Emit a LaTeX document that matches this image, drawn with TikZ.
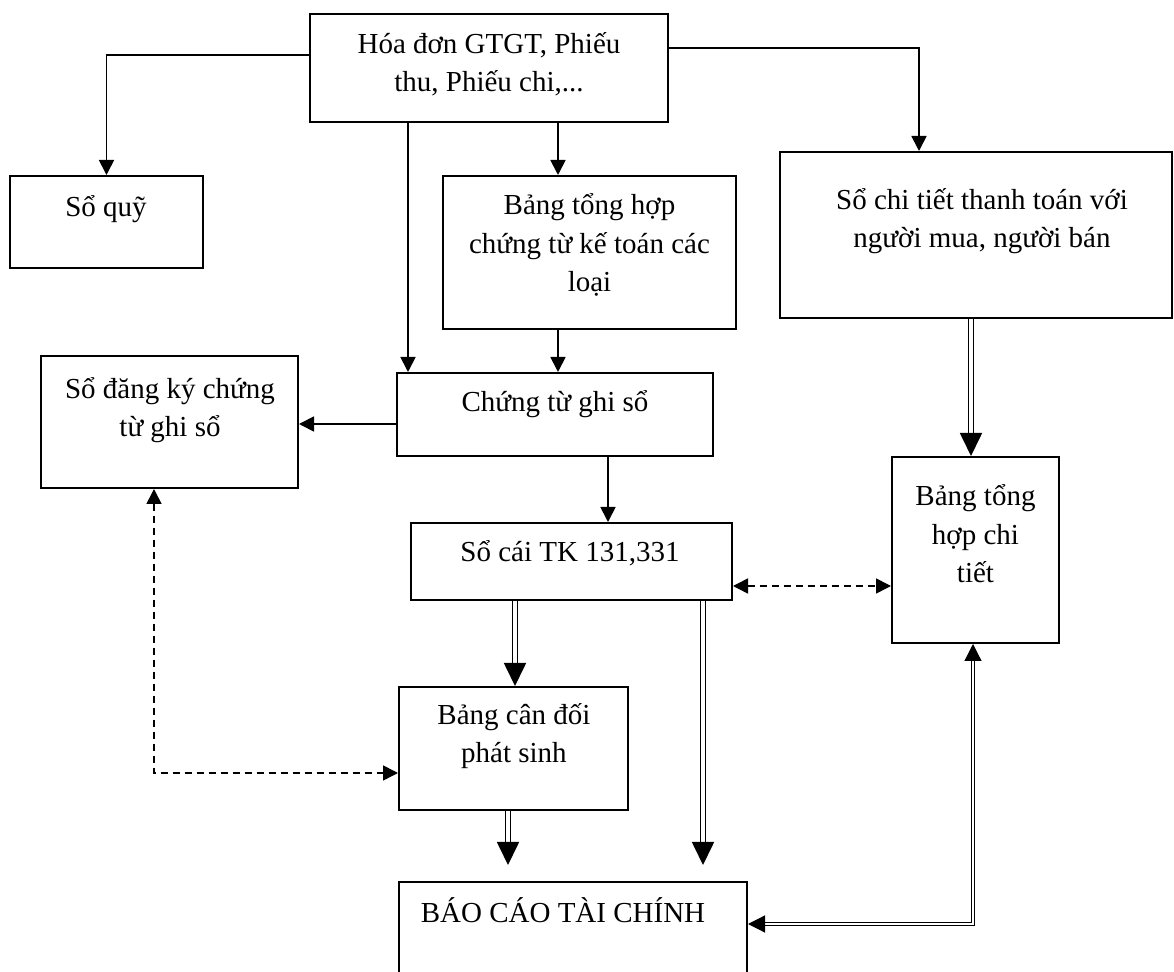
\documentclass[tikz,border=0pt]{standalone}
\usepackage{fontspec}
\setmainfont{Liberation Serif}
\usetikzlibrary{arrows.meta,fit}

\tikzset{
  box/.style={draw, line width=1pt, inner sep=0pt},
  lbl/.style={anchor=base, align=center, inner sep=0pt,
              font=\fontsize{14.5}{19.25}\selectfont},
  arr/.style={line width=0.9pt, -{Triangle[width=7.5pt,length=7.5pt]}},
  dbl/.style={double, line width=0.85pt, double distance=1.7pt,
              -{Triangle[width=11pt,length=11.5pt]}},
  dblthin/.style={double, line width=0.6pt, double distance=1.2pt,
              {Triangle[width=8.5pt,length=8.5pt]}-{Triangle[width=8.5pt,length=8.5pt]}},
  dsh/.style={line width=0.8pt, dash pattern=on 3.5pt off 2.5pt,
              {Triangle[width=7.5pt,length=7.5pt]}-{Triangle[width=7.5pt,length=7.5pt]}},
}

\begin{document}
\begin{tikzpicture}[x=0.5pt,y=-0.5pt]
\useasboundingbox (0,0) rectangle (1174,972);
\clip (0,0) rectangle (1174,972);

% boxes
\node[box, fit={(310,14) (668,122)}]   (hd)    {};
\node[box, fit={(10,176) (203,268)}]   (quy)   {};
\node[box, fit={(443,176) (736,329)}]  (bth)   {};
\node[box, fit={(780,152) (1172,318)}] (ct)    {};
\node[box, fit={(41,356) (298,488)}]   (dk)    {};
\node[box, fit={(397,373) (713,456)}]  (ctgs)  {};
\node[box, fit={(411,523) (732,600)}]  (sc)    {};
\node[box, fit={(892,457) (1059,643)}] (bthct) {};
\node[box, fit={(399,687) (628,810)}]  (bcd)   {};
\node[box, fit={(399,882) (747,990)}]  (bc)    {};

% labels (anchored at the baseline of their last line)
\node[lbl] (t-hd)    at (489,92)    {Hóa đơn GTGT, Phiếu\\thu, Phiếu chi,...};
\node[lbl] (t-quy)   at (106,217)   {Sổ quỹ};
\node[lbl] (t-bth)   at (589.5,292) {Bảng tổng hợp\\chứng từ kế toán các\\loại};
\node[lbl] (t-ct)    at (982,248)   {Sổ chi tiết thanh toán với\\người mua, người bán};
\node[lbl] (t-dk)    at (170,437)   {Sổ đăng ký chứng\\từ ghi sổ};
\node[lbl] (t-ctgs)  at (555,412)   {Chứng từ ghi sổ};
\node[lbl] (t-sc)    at (570,562)   {Sổ cái TK 131,331};
\node[lbl] (t-bthct) at (975.5,583) {Bảng tổng\\hợp chi\\tiết};
\node[lbl] (t-bcd)   at (514,763)   {Bảng cân đối\\phát sinh};
\node[lbl] (t-bc)    at (563,923)   {BÁO CÁO TÀI CHÍNH};

% free ends above the report box
\coordinate (e1) at (703,865);
\coordinate (e2) at (508,865);

% connectors
\draw[arr] (hd.west |- 0,55) -| (quy.north);
\draw[arr] (hd.east |- 0,48) -| (ct.north -| 919,0);
\draw[arr] (hd.south -| 408,0) -- (ctgs.north -| 408,0);
\draw[arr] (hd.south -| 558,0) -- (bth.north -| 558,0);
\draw[arr] (bth.south -| 558,0) -- (ctgs.north -| 558,0);
\draw[arr] (ctgs.west |- 0,424) -- (dk.east |- 0,424);
\draw[arr] (ctgs.south -| 608,0) -- (sc.north -| 608,0);

\draw[dbl] (ct.south -| 971,0) -- (bthct.north -| 971,0);
\draw[dbl] (sc.south -| 515,0) -- (bcd.north -| 515,0);
\draw[dbl] (sc.south -| 703,0) -- (e1);
\draw[dbl] (bcd.south -| 508,0) -- (e2);
\draw[dblthin] (bc.east |- 0,924) -| (bthct.south -| 973,0);

\draw[dsh] (sc.east |- 0,586) -- (bthct.west |- 0,586);
\draw[dsh] (dk.south -| 154,0) |- (bcd.west |- 0,773);
\end{tikzpicture}
\end{document}
